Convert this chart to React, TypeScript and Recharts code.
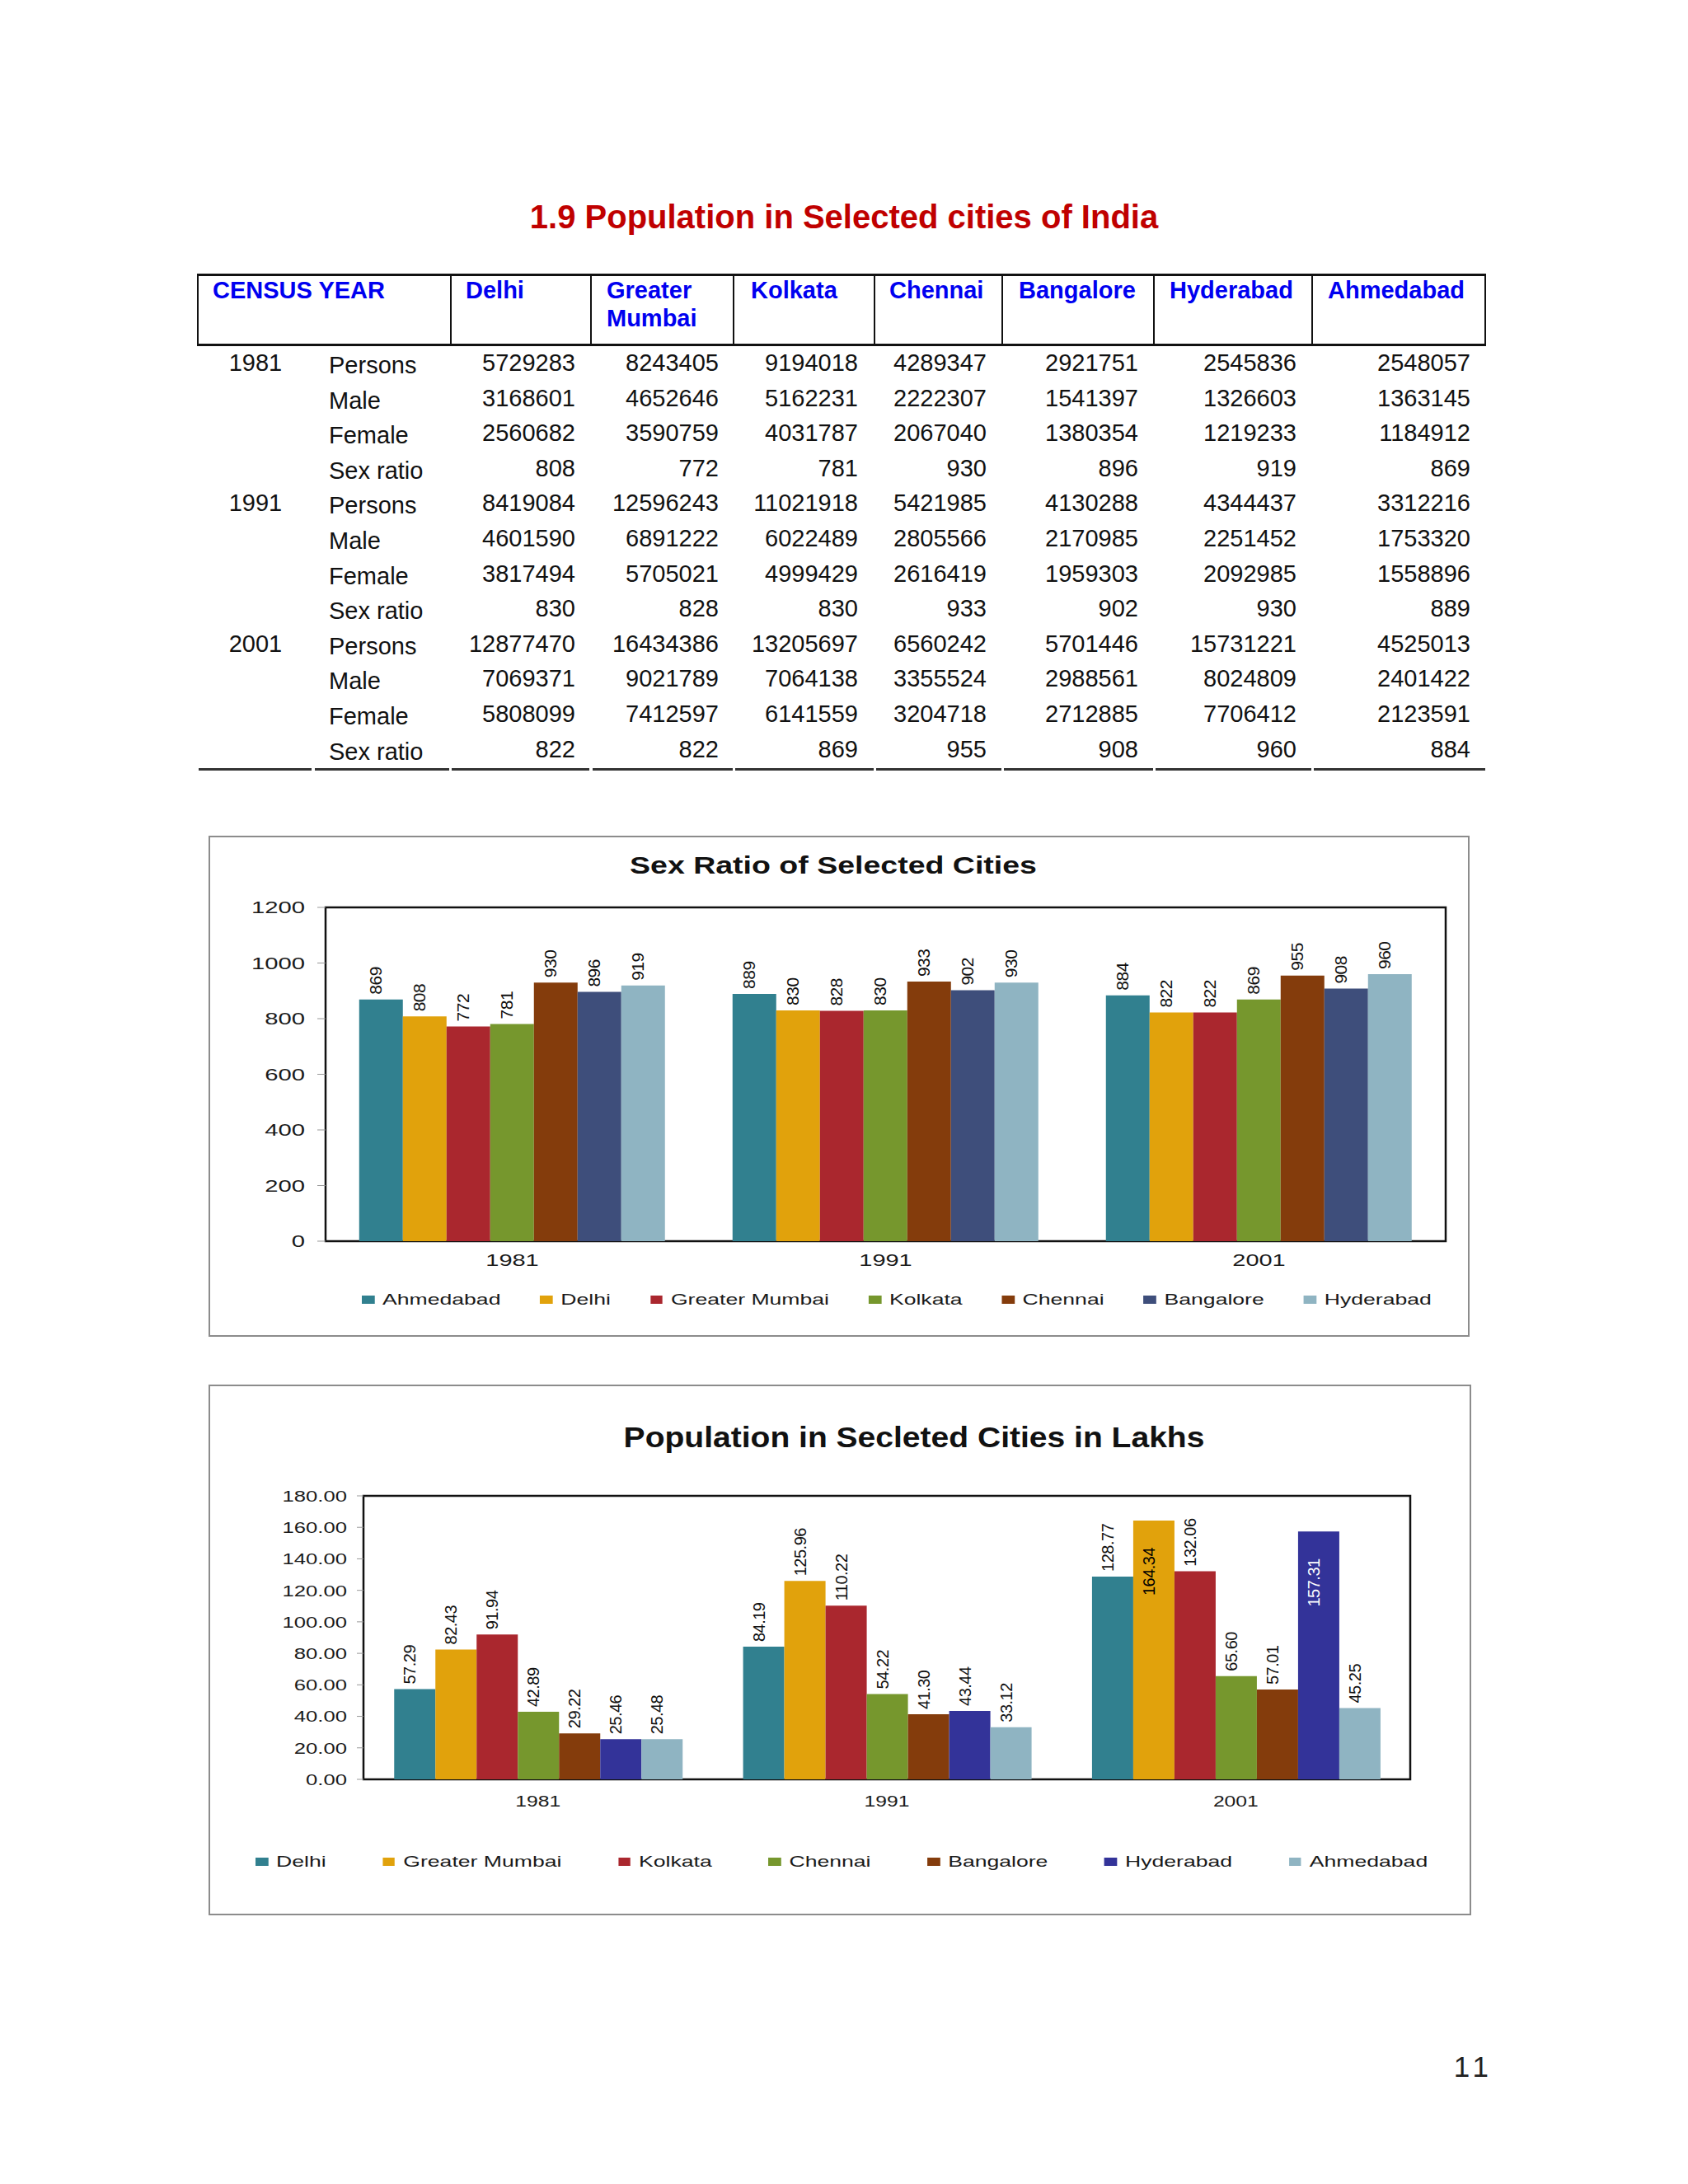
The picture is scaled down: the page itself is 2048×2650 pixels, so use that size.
import React from "react";
import { BarChart, Bar, XAxis, YAxis, Legend, LabelList, ReferenceArea } from "recharts";

const FONT = '"Liberation Sans", Arial, Helvetica, sans-serif';

// ---- table data ----
const YEARS = ["1981", "1991", "2001"];
const ROW_LABELS = ["Persons", "Male", "Female", "Sex ratio"];
const TABLE_HEADERS = ["CENSUS YEAR", "Delhi", "Greater\nMumbai", "Kolkata", "Chennai", "Bangalore", "Hyderabad", "Ahmedabad"];

const persons1981 = [5729283, 8243405, 9194018, 4289347, 2921751, 2545836, 2548057];
const male1981 = [3168601, 4652646, 5162231, 2222307, 1541397, 1326603, 1363145];
const female1981 = [2560682, 3590759, 4031787, 2067040, 1380354, 1219233, 1184912];
const ratio1981 = [808, 772, 781, 930, 896, 919, 869];
const persons1991 = [8419084, 12596243, 11021918, 5421985, 4130288, 4344437, 3312216];
const male1991 = [4601590, 6891222, 6022489, 2805566, 2170985, 2251452, 1753320];
const female1991 = [3817494, 5705021, 4999429, 2616419, 1959303, 2092985, 1558896];
const ratio1991 = [830, 828, 830, 933, 902, 930, 889];
const persons2001 = [12877470, 16434386, 13205697, 6560242, 5701446, 15731221, 4525013];
const male2001 = [7069371, 9021789, 7064138, 3355524, 2988561, 8024809, 2401422];
const female2001 = [5808099, 7412597, 6141559, 3204718, 2712885, 7706412, 2123591];
const ratio2001 = [822, 822, 869, 955, 908, 960, 884];

const TABLE_ROWS = [
  persons1981, male1981, female1981, ratio1981,
  persons1991, male1991, female1991, ratio1991,
  persons2001, male2001, female2001, ratio2001,
];

// ---- chart 1: sex ratio ----
const SEX_CITIES = ["Ahmedabad", "Delhi", "Greater Mumbai", "Kolkata", "Chennai", "Bangalore", "Hyderabad"];
const sexAhmedabad = [869, 889, 884];
const sexDelhi = [808, 830, 822];
const sexMumbai = [772, 828, 822];
const sexKolkata = [781, 830, 869];
const sexChennai = [930, 933, 955];
const sexBangalore = [896, 902, 908];
const sexHyderabad = [919, 930, 960];
const SEX_TICKS = [0, 200, 400, 600, 800, 1000, 1200];

// ---- chart 2: population in lakhs ----
const POP_CITIES = ["Delhi", "Greater Mumbai", "Kolkata", "Chennai", "Bangalore", "Hyderabad", "Ahmedabad"];
const popDelhi = [57.29, 84.19, 128.77];
const popMumbai = [82.43, 125.96, 164.34];
const popKolkata = [91.94, 110.22, 132.06];
const popChennai = [42.89, 54.22, 65.6];
const popBangalore = [29.22, 41.3, 57.01];
const popHyderabad = [25.46, 43.44, 157.31];
const popAhmedabad = [25.48, 33.12, 45.25];
const POP_TICKS = [0, 20, 40, 60, 80, 100, 120, 140, 160, 180];

const SEX_COLORS = ["#31808F", "#E1A20C", "#AA272E", "#76972D", "#843C0C", "#3E4E7B", "#8FB4C2"];
const POP_COLORS = ["#31808F", "#E1A20C", "#AA272E", "#76972D", "#843C0C", "#333399", "#8FB4C2"];
const POP_LABEL_INSIDE = ["#000", "#000", "#fff", "#000", "#fff", "#fff", "#000"];

const sexSeries = [sexAhmedabad, sexDelhi, sexMumbai, sexKolkata, sexChennai, sexBangalore, sexHyderabad];
const popSeries = [popDelhi, popMumbai, popKolkata, popChennai, popBangalore, popHyderabad, popAhmedabad];

const sexData = YEARS.map((year, i) => {
  const row: Record<string, any> = { year };
  SEX_CITIES.forEach((c, k) => (row[c] = sexSeries[k][i]));
  return row;
});
const popData = YEARS.map((year, i) => {
  const row: Record<string, any> = { year };
  POP_CITIES.forEach((c, k) => (row[c] = popSeries[k][i]));
  return row;
});

// rotated value label; goes inside the bar when the value is above `insideFrom`
function makeBarLabel(digits: number, size: number, insideFrom: number | null, insideColor: string) {
  return (props: any) => {
    const vb = props.viewBox || {};
    const x = Number(vb.x ?? props.x);
    const y = Number(vb.y ?? props.y);
    const w = Number(vb.width ?? props.width);
    const v = Number(props.value);
    const cx = x + w / 2 + 1;
    const inside = insideFrom != null && v > insideFrom;
    const ay = inside ? y + 33 : y - 6;
    return (
      <text
        x={cx}
        y={ay}
        transform={`rotate(-90 ${cx} ${ay})`}
        textAnchor={inside ? "end" : "start"}
        fontSize={size}
        fontFamily={FONT}
        letterSpacing={-0.5}
        fill={inside ? insideColor : "#111"}
      >
        {v.toFixed(digits)}
      </text>
    );
  };
}

// the original chart text is stretched sideways, so ticks are scaled in x
function makeYTick(digits: number, size: number, sx: number) {
  return ({ x, y, payload }: any) => (
    <g transform={`translate(${x},${y})`}>
      <text transform={`scale(${sx},1)`} dy="0.36em" textAnchor="end" fontSize={size} fontFamily={FONT} fill="#1a1a1a">
        {Number(payload.value).toFixed(digits)}
      </text>
    </g>
  );
}

function makeXTick(size: number, sx: number) {
  return ({ x, y, payload }: any) => (
    <g transform={`translate(${x},${y})`}>
      <text transform={`scale(${sx},1)`} dy="0.71em" textAnchor="middle" fontSize={size} fontFamily={FONT} fill="#1a1a1a">
        {payload.value}
      </text>
    </g>
  );
}

function makeLegend(order: string[], gap: number) {
  return ({ payload }: any) => {
    const items = [...(payload || [])].sort((a: any, b: any) => order.indexOf(a.value) - order.indexOf(b.value));
    return (
      <div
        style={{ display: "flex", alignItems: "center", fontFamily: FONT, fontSize: 18.6, color: "#1a1a1a", whiteSpace: "nowrap", lineHeight: "24px", transform: "scaleX(1.43)", transformOrigin: "left center" }}
      >
        {items.map((p: any, i: number) => (
          <div key={p.value} style={{ display: "flex", alignItems: "center", marginRight: i < items.length - 1 ? gap : 0 }}>
            <span style={{ display: "inline-block", width: 10.5, height: 10, background: p.color, marginRight: 7 }} />
            <span>{p.value}</span>
          </div>
        ))}
      </div>
    );
  };
}

function CensusTable() {
  const borders = [240, 547, 717, 890, 1061, 1216, 1400, 1592, 1802];
  const headerLeft = [258, 565, 736, 911, 1079, 1236, 1419, 1611];
  const numRight = [698, 872, 1041, 1197, 1381, 1573, 1784];
  const rowPitch = 42.6;
  const segs = [[241, 378], [382, 545], [548, 715], [719, 889], [892, 1060], [1063, 1215], [1218, 1399], [1402, 1591], [1594, 1802]];
  const txt: React.CSSProperties = { position: "absolute", fontFamily: FONT, fontSize: 29, height: 42, lineHeight: "42px", whiteSpace: "nowrap", color: "#111" };
  return (
    <>
      <div style={{ position: "absolute", left: 240, top: 332, width: 1562, height: 3, background: "#111" }} />
      <div style={{ position: "absolute", left: 240, top: 417, width: 1562, height: 3, background: "#111" }} />
      {borders.map((b) => (
        <div key={b} style={{ position: "absolute", left: b - 1, top: 332, width: 2, height: 88, background: "#111" }} />
      ))}
      {TABLE_HEADERS.map((h, i) =>
        h.split("\n").map((line, j) => (
          <div
            key={h + j}
            style={{ position: "absolute", left: headerLeft[i], top: 352 - 17 + j * 34, height: 34, lineHeight: "34px", fontFamily: FONT, fontSize: 29, fontWeight: "bold", color: "#0000F0", whiteSpace: "nowrap" }}
          >
            {line}
          </div>
        ))
      )}
      {TABLE_ROWS.map((vals, r) => {
        const cy = 440 + r * rowPitch;
        return (
          <React.Fragment key={r}>
            {r % 4 === 0 && (
              <div style={{ ...txt, left: 250, width: 120, textAlign: "center", top: cy - 21 }}>{YEARS[r / 4]}</div>
            )}
            <div style={{ ...txt, left: 399, top: cy - 18 }}>{ROW_LABELS[r % 4]}</div>
            {vals.map((v, c) => (
              <div key={c} style={{ ...txt, left: numRight[c] - 200, width: 200, textAlign: "right", top: cy - 21 }}>
                {v}
              </div>
            ))}
          </React.Fragment>
        );
      })}
      {segs.map(([a, b]) => (
        <div key={a} style={{ position: "absolute", left: a, top: 932, width: b - a, height: 3, background: "#333" }} />
      ))}
    </>
  );
}

function ChartTitle({ text, cx, cy, size, sx }: { text: string; cx: number; cy: number; size: number; sx: number }) {
  return (
    <div
      style={{ position: "absolute", left: cx, top: cy - size * 0.6, height: size * 1.2, lineHeight: `${size * 1.2}px`, whiteSpace: "nowrap", fontFamily: FONT, fontSize: size, fontWeight: "bold", color: "#111", transform: `translateX(-50%) scaleX(${sx})`, transformOrigin: "center" }}
    >
      {text}
    </div>
  );
}

function SexRatioChart() {
  return (
    <div style={{ position: "absolute", left: 253, top: 1014, width: 1530, height: 608 }}>
      <div style={{ position: "absolute", left: 0, top: 0, width: 1530, height: 608, boxSizing: "border-box", border: "2px solid #8c8c8c" }} />
      <ChartTitle text="Sex Ratio of Selected Cities" cx={758} cy={36} size={30} sx={1.25} />
      <BarChart width={1530} height={608} data={sexData} margin={{ top: 87, right: 29, bottom: 76, left: 0 }} barGap={0} barCategoryGap="9%">
        <XAxis dataKey="year" height={40} axisLine={false} tickLine={false} tickSize={0} tickMargin={16} tick={makeXTick(20, 1.45)} />
        <YAxis width={142} domain={[0, 1200]} ticks={SEX_TICKS} axisLine={false} tickLine={{ stroke: "#999" }} tickSize={10} tickMargin={15} tick={makeYTick(0, 19.5, 1.5)} />
        <Legend verticalAlign="middle" align="center" layout="horizontal" wrapperStyle={{ left: 186, top: 551, width: "max-content" }} content={makeLegend(SEX_CITIES, 33.5)} />
        {SEX_CITIES.map((c, k) => (
          <Bar key={c} dataKey={c} fill={SEX_COLORS[k]} isAnimationActive={false}>
            <LabelList dataKey={c} content={makeBarLabel(0, 21, null, "#000")} />
          </Bar>
        ))}
        <ReferenceArea y1={0} y2={1200} fill="none" fillOpacity={0} stroke="#111" strokeWidth={2.5} ifOverflow="visible" />
      </BarChart>
    </div>
  );
}

function PopulationChart() {
  return (
    <div style={{ position: "absolute", left: 253, top: 1680, width: 1532, height: 644 }}>
      <div style={{ position: "absolute", left: 0, top: 0, width: 1532, height: 644, boxSizing: "border-box", border: "2px solid #8c8c8c" }} />
      <ChartTitle text="Population in Secleted Cities in Lakhs" cx={856} cy={64} size={35} sx={1.115} />
      <BarChart width={1532} height={644} data={popData} margin={{ top: 135, right: 74, bottom: 125, left: 0 }} barGap={0} barCategoryGap="8.8%">
        <XAxis dataKey="year" height={40} axisLine={false} tickLine={false} tickSize={0} tickMargin={20} tick={makeXTick(19, 1.3)} />
        <YAxis width={188} domain={[0, 180]} ticks={POP_TICKS} axisLine={false} tickLine={{ stroke: "#999" }} tickSize={8} tickMargin={12} tick={makeYTick(2, 19, 1.35)} />
        <Legend verticalAlign="middle" align="center" layout="horizontal" wrapperStyle={{ left: 57, top: 567, width: "max-content" }} content={makeLegend(POP_CITIES, 48)} />
        {POP_CITIES.map((c, k) => (
          <Bar key={c} dataKey={c} fill={POP_COLORS[k]} isAnimationActive={false}>
            <LabelList dataKey={c} content={makeBarLabel(2, 20, 150, POP_LABEL_INSIDE[k])} />
          </Bar>
        ))}
        <ReferenceArea y1={0} y2={180} fill="none" fillOpacity={0} stroke="#111" strokeWidth={2.5} ifOverflow="visible" />
      </BarChart>
    </div>
  );
}

export default function App() {
  return (
    <div style={{ position: "absolute", left: 0, top: 0, width: 2048, height: 2650, background: "#fff" }}>
      <div
        style={{ position: "absolute", left: 0, width: 2048, top: 263 - 25, height: 50, lineHeight: "50px", textAlign: "center", fontFamily: FONT, fontSize: 40, fontWeight: "bold", color: "#C00000" }}
      >
        1.9 Population in Selected cities of India
      </div>
      <CensusTable />
      <SexRatioChart />
      <PopulationChart />
      <div style={{ position: "absolute", left: 1700, width: 112, top: 2508 - 22, height: 44, lineHeight: "44px", textAlign: "right", fontFamily: FONT, fontSize: 35, letterSpacing: 6, color: "#222" }}>
        11
      </div>
    </div>
  );
}
